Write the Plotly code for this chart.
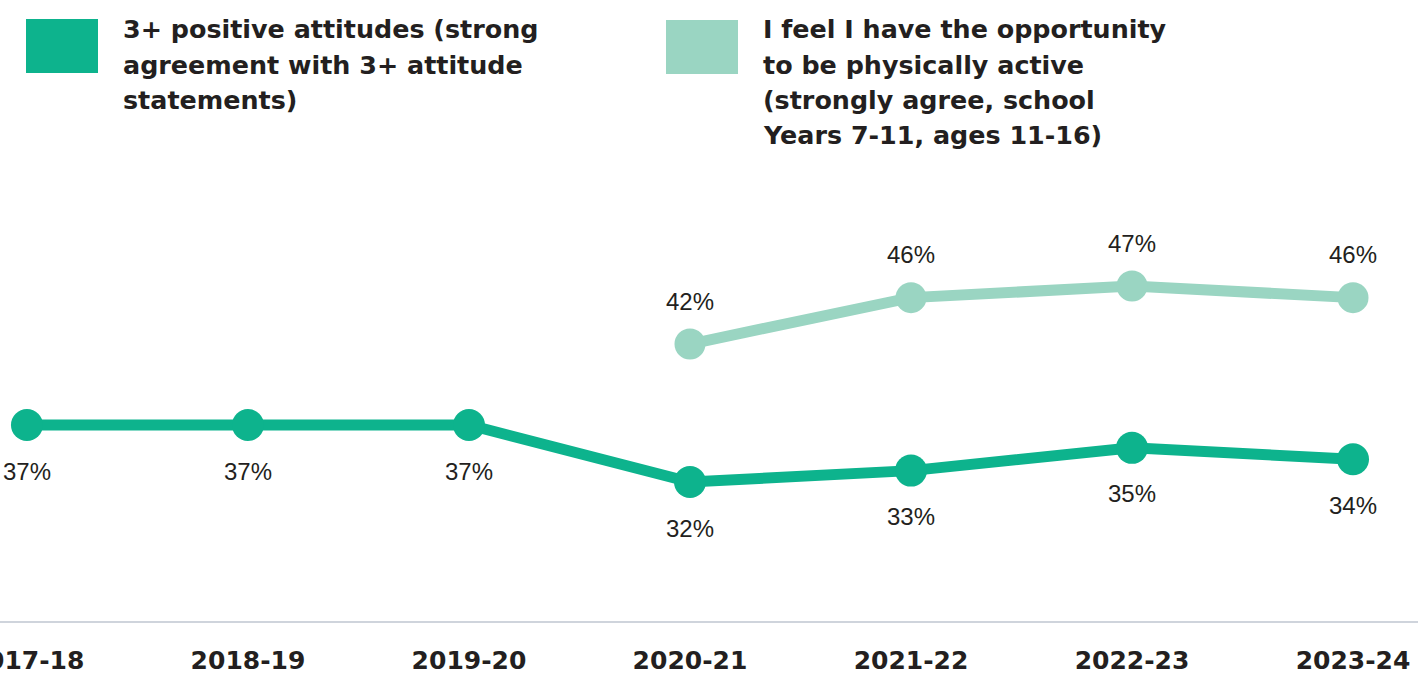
import plotly.graph_objects as go

years = ["2017-18", "2018-19", "2019-20", "2020-21", "2021-22", "2022-23", "2023-24"]
positive_attitudes = [37, 37, 37, 32, 33, 35, 34]
opportunity_years = ["2020-21", "2021-22", "2022-23", "2023-24"]
opportunity_values = [42, 46, 47, 46]

legend_positive = ["3+ positive attitudes (strong", "agreement with 3+ attitude", "statements)"]
legend_opportunity = ["I feel I have the opportunity", "to be physically active",
                      "(strongly agree, school", "Years 7-11, ages 11-16)"]

GREEN = "#0db38d"
LIGHT = "#9ad5c2"
TEXT = "#231f20"
W, H = 1418, 676
PLOT_H = 621

fig = go.Figure()
fig.add_trace(go.Scatter(
    x=opportunity_years, y=opportunity_values, yaxis="y2", mode="lines+markers",
    line=dict(color=LIGHT, width=11), marker=dict(color=LIGHT, size=31),
    showlegend=False, hoverinfo="skip"))
fig.add_trace(go.Scatter(
    x=years, y=positive_attitudes, mode="lines+markers",
    line=dict(color=GREEN, width=11), marker=dict(color=GREEN, size=32),
    showlegend=False, hoverinfo="skip"))

label_font = dict(family="Liberation Sans", size=24, color=TEXT)
annotations = []
for x, v in zip(years, positive_attitudes):
    annotations.append(dict(x=x, y=v, xref="x", yref="y", text=f"{v}%", showarrow=False,
                            yshift=-46, font=label_font))
for x, v in zip(opportunity_years, opportunity_values):
    annotations.append(dict(x=x, y=v, xref="x", yref="y2", text=f"{v}%", showarrow=False,
                            yshift=43, font=label_font))

legend_font = dict(family="DejaVu Sans", size=25.4, color=TEXT, weight=700)
LINE_STEP = 35.5
for i, line in enumerate(legend_positive):
    annotations.append(dict(x=121 / W, y=1 - (29 + i * LINE_STEP) / PLOT_H, xref="paper",
                            yref="paper", xanchor="left", yanchor="middle", align="left",
                            text=line, showarrow=False, font=legend_font))
for i, line in enumerate(legend_opportunity):
    annotations.append(dict(x=761 / W, y=1 - (29 + i * LINE_STEP) / PLOT_H, xref="paper",
                            yref="paper", xanchor="left", yanchor="middle", align="left",
                            text=line, showarrow=False, font=legend_font))

shapes = [
    dict(type="rect", xref="paper", yref="paper", x0=26 / W, x1=98 / W,
         y0=1 - 73 / PLOT_H, y1=1 - 19 / PLOT_H, fillcolor=GREEN, line=dict(width=0)),
    dict(type="rect", xref="paper", yref="paper", x0=666 / W, x1=738 / W,
         y0=1 - 74 / PLOT_H, y1=1 - 20 / PLOT_H, fillcolor=LIGHT, line=dict(width=0)),
]

fig.update_layout(
    width=W, height=H,
    margin=dict(l=0, r=0, t=0, b=H - PLOT_H, pad=0),
    paper_bgcolor="white", plot_bgcolor="white",
    xaxis=dict(type="category", categoryorder="array", categoryarray=years,
               range=[-0.122, 6.294], showgrid=False, zeroline=False,
               showline=True, linecolor="#cfd4dc", linewidth=1.5,
               ticks="", ticklabelstandoff=16, automargin=False,
               tickfont=dict(family="DejaVu Sans", size=25, color=TEXT, weight=700)),
    yaxis=dict(range=[19.81, 74.28], visible=False, fixedrange=True),
    yaxis2=dict(range=[18.12, 71.66], overlaying="y", visible=False, fixedrange=True),
    annotations=annotations, shapes=shapes,
)

fig.write_html("out.html", config={"displayModeBar": False},
               post_script="document.body.style.margin='0';")
